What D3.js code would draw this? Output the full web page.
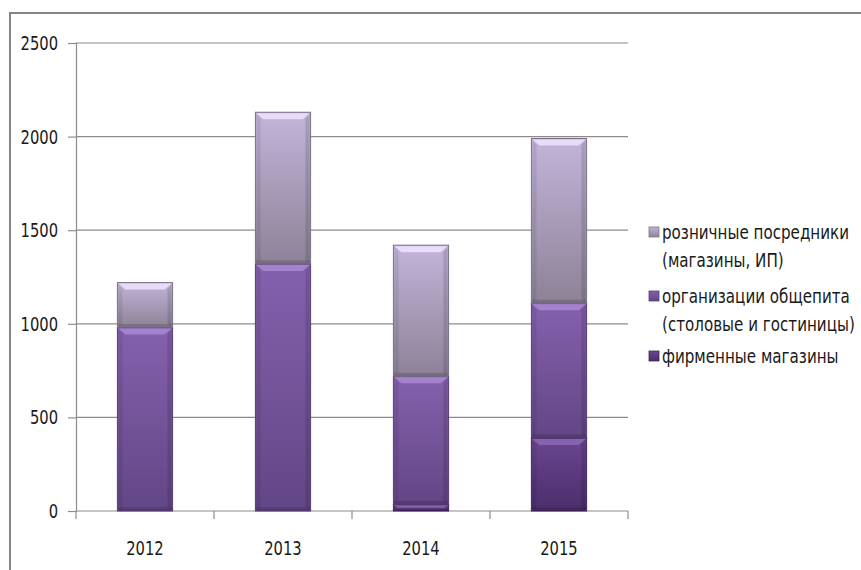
<!DOCTYPE html>
<html>
<head>
<meta charset="utf-8">
<script src="https://cdn.jsdelivr.net/npm/d3@7"></script>
<style>
  body { margin: 0; background: #fff; }
  text { font-family: "DejaVu Sans Condensed", "DejaVu Sans", sans-serif; font-stretch: condensed; fill: #1a1a1a; }
</style>
</head>
<body>
<div id="chart"></div>
<script>
const years = ['2012', '2013', '2014', '2015'];
const firmStores = [0, 0, 35, 390];
const catering = [980, 1320, 685, 720];
const retail = [240, 810, 700, 880];
const yTicks = [0, 500, 1000, 1500, 2000, 2500];

const W = 861, H = 570;
const margin = { top: 43, left: 76, right: 233, bottom: 59 };
const width = W - margin.left - margin.right;
const height = H - margin.top - margin.bottom;

const svg = d3.select('#chart').append('svg')
  .attr('width', W).attr('height', H);

// the original uses a tall narrow face; squeeze text horizontally around its anchor x
function narrow(sel, k) {
  sel.each(function () {
    const t = d3.select(this);
    const ax = +t.attr('x') || 0;
    t.attr('transform', `translate(${ax},0) scale(${k},1) translate(${-ax},0)`);
  });
}

// colours: [top, bottom] of gradient, bevel light
const palette = [
  { id: 'g0', top: '#6a4691', bot: '#4b2d6b', light: '#8b68b5' },
  { id: 'g1', top: '#8561ad', bot: '#634686', light: '#a98ad4' },
  { id: 'g2', top: '#c3b4da', bot: '#8d8297', light: '#eee3ff' }
];

const defs = svg.append('defs');
palette.forEach(p => {
  const g = defs.append('linearGradient').attr('id', p.id)
    .attr('x1', 0).attr('y1', 0).attr('x2', 0).attr('y2', 1);
  g.append('stop').attr('offset', '0%').attr('stop-color', p.top);
  g.append('stop').attr('offset', '100%').attr('stop-color', p.bot);
});

// outer frame (cut by the window on right and bottom)
svg.append('rect')
  .attr('x', 10).attr('y', 13).attr('width', 900).attr('height', 600)
  .attr('fill', 'none').attr('stroke', '#858585').attr('stroke-width', 2);

const g = svg.append('g').attr('transform', `translate(${margin.left},${margin.top})`);

const x = d3.scaleBand().domain(years).range([0, width]).paddingInner(0.6).paddingOuter(0.3);
const y = d3.scaleLinear().domain([0, 2500]).range([height, 0]);

// gridlines
g.selectAll('.grid').data(yTicks.slice(1)).enter().append('line')
  .attr('x1', 0).attr('x2', width)
  .attr('y1', d => y(d)).attr('y2', d => y(d))
  .attr('stroke', '#8c8c8c').attr('stroke-width', 1.2);

// y axis
const yAxis = g.append('g')
  .call(d3.axisLeft(y).tickValues(yTicks).tickFormat(d3.format('d')).tickSize(8).tickPadding(10));
yAxis.select('.domain').attr('stroke', '#8c8c8c').attr('stroke-width', 1.2);
yAxis.selectAll('.tick line').attr('stroke', '#8c8c8c').attr('stroke-width', 1.2);
yAxis.selectAll('text').style('font-size', '20px').attr('fill', '#1a1a1a').call(narrow, 0.82);

// x axis: ticks between categories
const xAxisG = g.append('g').attr('transform', `translate(0,${height})`);
xAxisG.append('line').attr('x1', 0).attr('x2', width)
  .attr('stroke', '#8c8c8c').attr('stroke-width', 1.2);
const bounds = d3.range(years.length + 1).map(i => i * width / years.length);
xAxisG.selectAll('.xt').data(bounds).enter().append('line')
  .attr('x1', d => d).attr('x2', d => d).attr('y1', 0).attr('y2', 8)
  .attr('stroke', '#8c8c8c').attr('stroke-width', 1.2);
xAxisG.selectAll('.xl').data(years).enter().append('text')
  .attr('x', d => x(d) + x.bandwidth() / 2).attr('y', 44)
  .attr('text-anchor', 'middle').style('font-size', '20px')
  .text(d => d)
  .call(narrow, 0.82);

// stacked data
const rows = years.map((yr, i) => ({ year: yr, s0: firmStores[i], s1: catering[i], s2: retail[i] }));
const stack = d3.stack().keys(['s0', 's1', 's2'])(rows);

const bw = x.bandwidth();
stack.forEach((layer, li) => {
  const p = palette[li];
  const lg = g.append('g');
  layer.forEach(d => {
    const x0 = x(d.data.year);
    const yTop = y(d[1]);
    const yBot = y(d[0]);
    const h = yBot - yTop;
    if (h <= 0) return;
    const b = Math.min(7, h / 2);
    lg.append('rect')
      .attr('x', x0).attr('y', yTop).attr('width', bw).attr('height', h)
      .attr('fill', `url(#${p.id})`)
      .attr('stroke', d3.color(p.bot).darker(0.4)).attr('stroke-width', 1);
    // top bevel
    lg.append('polygon')
      .attr('points', [[x0 + 1, yTop + 1], [x0 + bw - 1, yTop + 1], [x0 + bw - 1 - b, yTop + b], [x0 + 1 + b, yTop + b]].join(' '))
      .attr('fill', p.light).attr('opacity', 0.85);
    // side bevels
    lg.append('polygon')
      .attr('points', [[x0 + 1, yTop + 1], [x0 + 1 + b * 0.6, yTop + b], [x0 + 1 + b * 0.6, yBot - b * 0.5], [x0 + 1, yBot - 1]].join(' '))
      .attr('fill', '#000').attr('opacity', 0.08);
    lg.append('polygon')
      .attr('points', [[x0 + bw - 1, yTop + 1], [x0 + bw - 1 - b * 0.6, yTop + b], [x0 + bw - 1 - b * 0.6, yBot - b * 0.5], [x0 + bw - 1, yBot - 1]].join(' '))
      .attr('fill', '#000').attr('opacity', 0.12);
    // bottom bevel
    lg.append('rect')
      .attr('x', x0 + 1).attr('y', yBot - b * 0.5).attr('width', bw - 2).attr('height', b * 0.5)
      .attr('fill', '#000').attr('opacity', 0.15);
  });
});

// legend (top entry = top series)
const legendItems = [
  { lines: ['розничные посредники', '(магазины, ИП)'], p: palette[2], y: 232 },
  { lines: ['организации общепита', '(столовые и гостиницы)'], p: palette[1], y: 296 },
  { lines: ['фирменные магазины'], p: palette[0], y: 356 }
];
const leg = svg.append('g');
legendItems.forEach(it => {
  leg.append('rect')
    .attr('x', 649).attr('y', it.y - 5).attr('width', 10).attr('height', 10)
    .attr('fill', `url(#${it.p.id})`).attr('stroke', d3.color(it.p.bot).darker(0.3)).attr('stroke-width', 0.8);
  it.lines.forEach((ln, k) => {
    leg.append('text')
      .attr('class', 'leg')
      .attr('x', 662).attr('y', it.y + k * 28)
      .attr('dy', '0.35em').style('font-size', '20px')
      .text(ln);
  });
});
// fit the longest legend line to its width in the original
let maxW = 0;
leg.selectAll('text.leg').each(function () { maxW = Math.max(maxW, this.getComputedTextLength()); });
leg.selectAll('text.leg').call(narrow, 193 / maxW);
</script>
</body>
</html>
